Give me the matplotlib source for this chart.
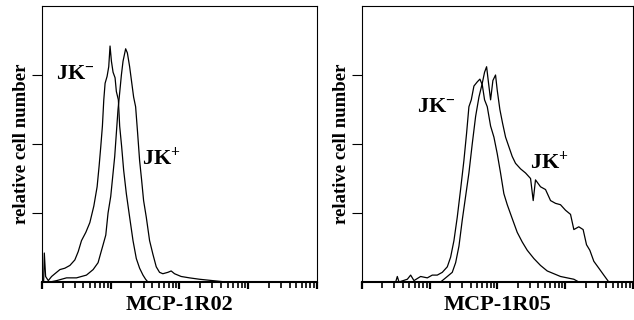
import numpy as np
import matplotlib
matplotlib.use("Agg")
import matplotlib.pyplot as plt
from matplotlib.ticker import LogLocator, NullFormatter, FixedLocator

plt.rcParams["font.family"] = ["Liberation Serif", "DejaVu Serif"]
plt.rcParams["font.weight"] = "bold"
plt.rcParams["mathtext.fontset"] = "custom"
plt.rcParams["mathtext.rm"] = "Liberation Serif:bold"
plt.rcParams["mathtext.it"] = "Liberation Serif:bold"
plt.rcParams["mathtext.bf"] = "Liberation Serif:bold"

# MCP-1R02 panel: log10 fluorescence and relative cell counts
r02_neg_log = [0.0, 0.024, 0.034, 0.053, 0.092, 0.14, 0.188, 0.261, 0.333, 0.406,
               0.478, 0.527, 0.575, 0.638, 0.696, 0.754, 0.802, 0.831, 0.855, 0.879,
               0.899, 0.918, 0.947, 0.971, 0.99, 1.01, 1.034, 1.063, 1.082, 1.111,
               1.13, 1.159, 1.188, 1.227, 1.275, 1.324, 1.372, 1.42, 1.469, 1.507, 1.541]
r02_neg_counts = [0, 0, 21, 4, 1, 4, 6, 9, 10, 12,
                  16, 22, 30, 36, 43, 55, 69, 84, 98, 113,
                  132, 144, 149, 156, 171, 160, 152, 148, 138, 132,
                  113, 98, 81, 64, 47, 30, 17, 10, 5, 2, 0]

r02_pos_log = [0.116, 0.213, 0.357, 0.502, 0.647, 0.744, 0.816, 0.855, 0.889, 0.928,
               0.961, 1.0, 1.034, 1.058, 1.082, 1.106, 1.13, 1.155, 1.179, 1.217,
               1.242, 1.275, 1.304, 1.333, 1.362, 1.391, 1.42, 1.449, 1.478, 1.517,
               1.565, 1.614, 1.662, 1.71, 1.758, 1.831, 1.879, 1.928, 2.024, 2.145,
               2.29, 2.483, 2.676]
r02_pos_counts = [0, 1, 3, 3, 5, 9, 14, 21, 27, 34,
                  50, 62, 79, 91, 108, 125, 137, 150, 160, 169,
                  166, 156, 145, 134, 127, 108, 88, 74, 59, 47,
                  30, 20, 11, 7, 6, 7, 8, 6, 4, 3,
                  2, 1, 0]

# MCP-1R05 panel
r05_neg_log = [0.497, 0.521, 0.546, 0.669, 0.718, 0.767, 0.865, 0.964, 1.037, 1.111,
               1.185, 1.259, 1.308, 1.357, 1.406, 1.455, 1.504, 1.544, 1.578, 1.613,
               1.652, 1.701, 1.74, 1.775, 1.809, 1.849, 1.898, 1.947, 1.996, 2.045,
               2.094, 2.144, 2.217, 2.291, 2.365, 2.439, 2.537, 2.635, 2.734, 2.832,
               2.93, 3.028, 3.127, 3.2]
r05_neg_counts = [0, 4, 0, 2, 5, 1, 4, 3, 5, 5,
                  7, 11, 18, 30, 47, 67, 88, 108, 127, 132,
                  142, 145, 147, 143, 132, 127, 113, 105, 93, 79,
                  64, 56, 46, 36, 29, 23, 17, 12, 8, 6,
                  4, 3, 2, 0]

r05_pos_log = [1.16, 1.259, 1.332, 1.382, 1.431, 1.48, 1.529, 1.578, 1.627, 1.677,
               1.726, 1.775, 1.809, 1.839, 1.868, 1.898, 1.932, 1.971, 1.996, 2.035,
               2.075, 2.119, 2.168, 2.217, 2.266, 2.34, 2.414, 2.488, 2.527, 2.561,
               2.635, 2.709, 2.783, 2.856, 2.93, 3.004, 3.078, 3.127, 3.2, 3.264,
               3.314, 3.363, 3.422, 3.496, 3.569, 3.643]
r05_pos_counts = [0, 4, 7, 14, 26, 45, 62, 79, 100, 120,
                  134, 144, 152, 156, 144, 132, 146, 150, 139, 125,
                  115, 105, 98, 91, 86, 82, 79, 75, 59, 74,
                  69, 67, 59, 57, 56, 52, 49, 38, 40, 38,
                  27, 23, 15, 10, 5, 0]

panels = [
    ("MCP-1R02", r02_neg_log, r02_neg_counts, r02_pos_log, r02_pos_counts,
     (3.1, 151), (55, 90), [0.0662, 0.11875, 0.4338, 0.8625]),
    ("MCP-1R05", r05_neg_log, r05_neg_counts, r05_pos_log, r05_pos_counts,
     (12.3, 127), (590, 87), [0.571, 0.11875, 0.4274, 0.8625]),
]

fig = plt.figure(figsize=(6.34, 3.2), dpi=100)

for name, nlog, ncnt, plog, pcnt, neg_xy, pos_xy, rect in panels:
    ax = fig.add_axes(rect)
    ax.plot(10 ** np.array(nlog), ncnt, color="black", lw=0.9)
    ax.plot(10 ** np.array(plog), pcnt, color="black", lw=0.9)
    ax.set_xscale("log")
    ax.set_xlim(1, 1e4)
    ax.set_ylim(0, 200)

    ax.xaxis.set_major_locator(LogLocator(base=10, numticks=10))
    ax.xaxis.set_minor_locator(LogLocator(base=10, subs=np.arange(2, 10), numticks=50))
    ax.xaxis.set_major_formatter(NullFormatter())
    ax.xaxis.set_minor_formatter(NullFormatter())
    ax.yaxis.set_major_locator(FixedLocator([50, 100, 150]))
    ax.yaxis.set_major_formatter(NullFormatter())

    ax.tick_params(axis="x", which="major", direction="out", length=5, width=1.6)
    ax.tick_params(axis="x", which="minor", direction="out", length=4, width=1.2)
    ax.tick_params(axis="y", direction="out", length=7, width=0.8)

    for side in ["top", "right", "left"]:
        ax.spines[side].set_linewidth(0.8)
    ax.spines["bottom"].set_linewidth(1.5)

    ax.set_xlabel(name, fontsize=16, fontweight="bold", labelpad=0.5)
    ax.set_ylabel("relative cell number", fontsize=13.5, fontweight="bold", labelpad=-2)

    ax.text(neg_xy[0], neg_xy[1], "JK$^{-}$", fontsize=16, fontweight="bold",
            ha="center", va="center")
    ax.text(pos_xy[0], pos_xy[1], "JK$^{+}$", fontsize=16, fontweight="bold",
            ha="center", va="center")

fig.savefig("out.png", dpi=100)
